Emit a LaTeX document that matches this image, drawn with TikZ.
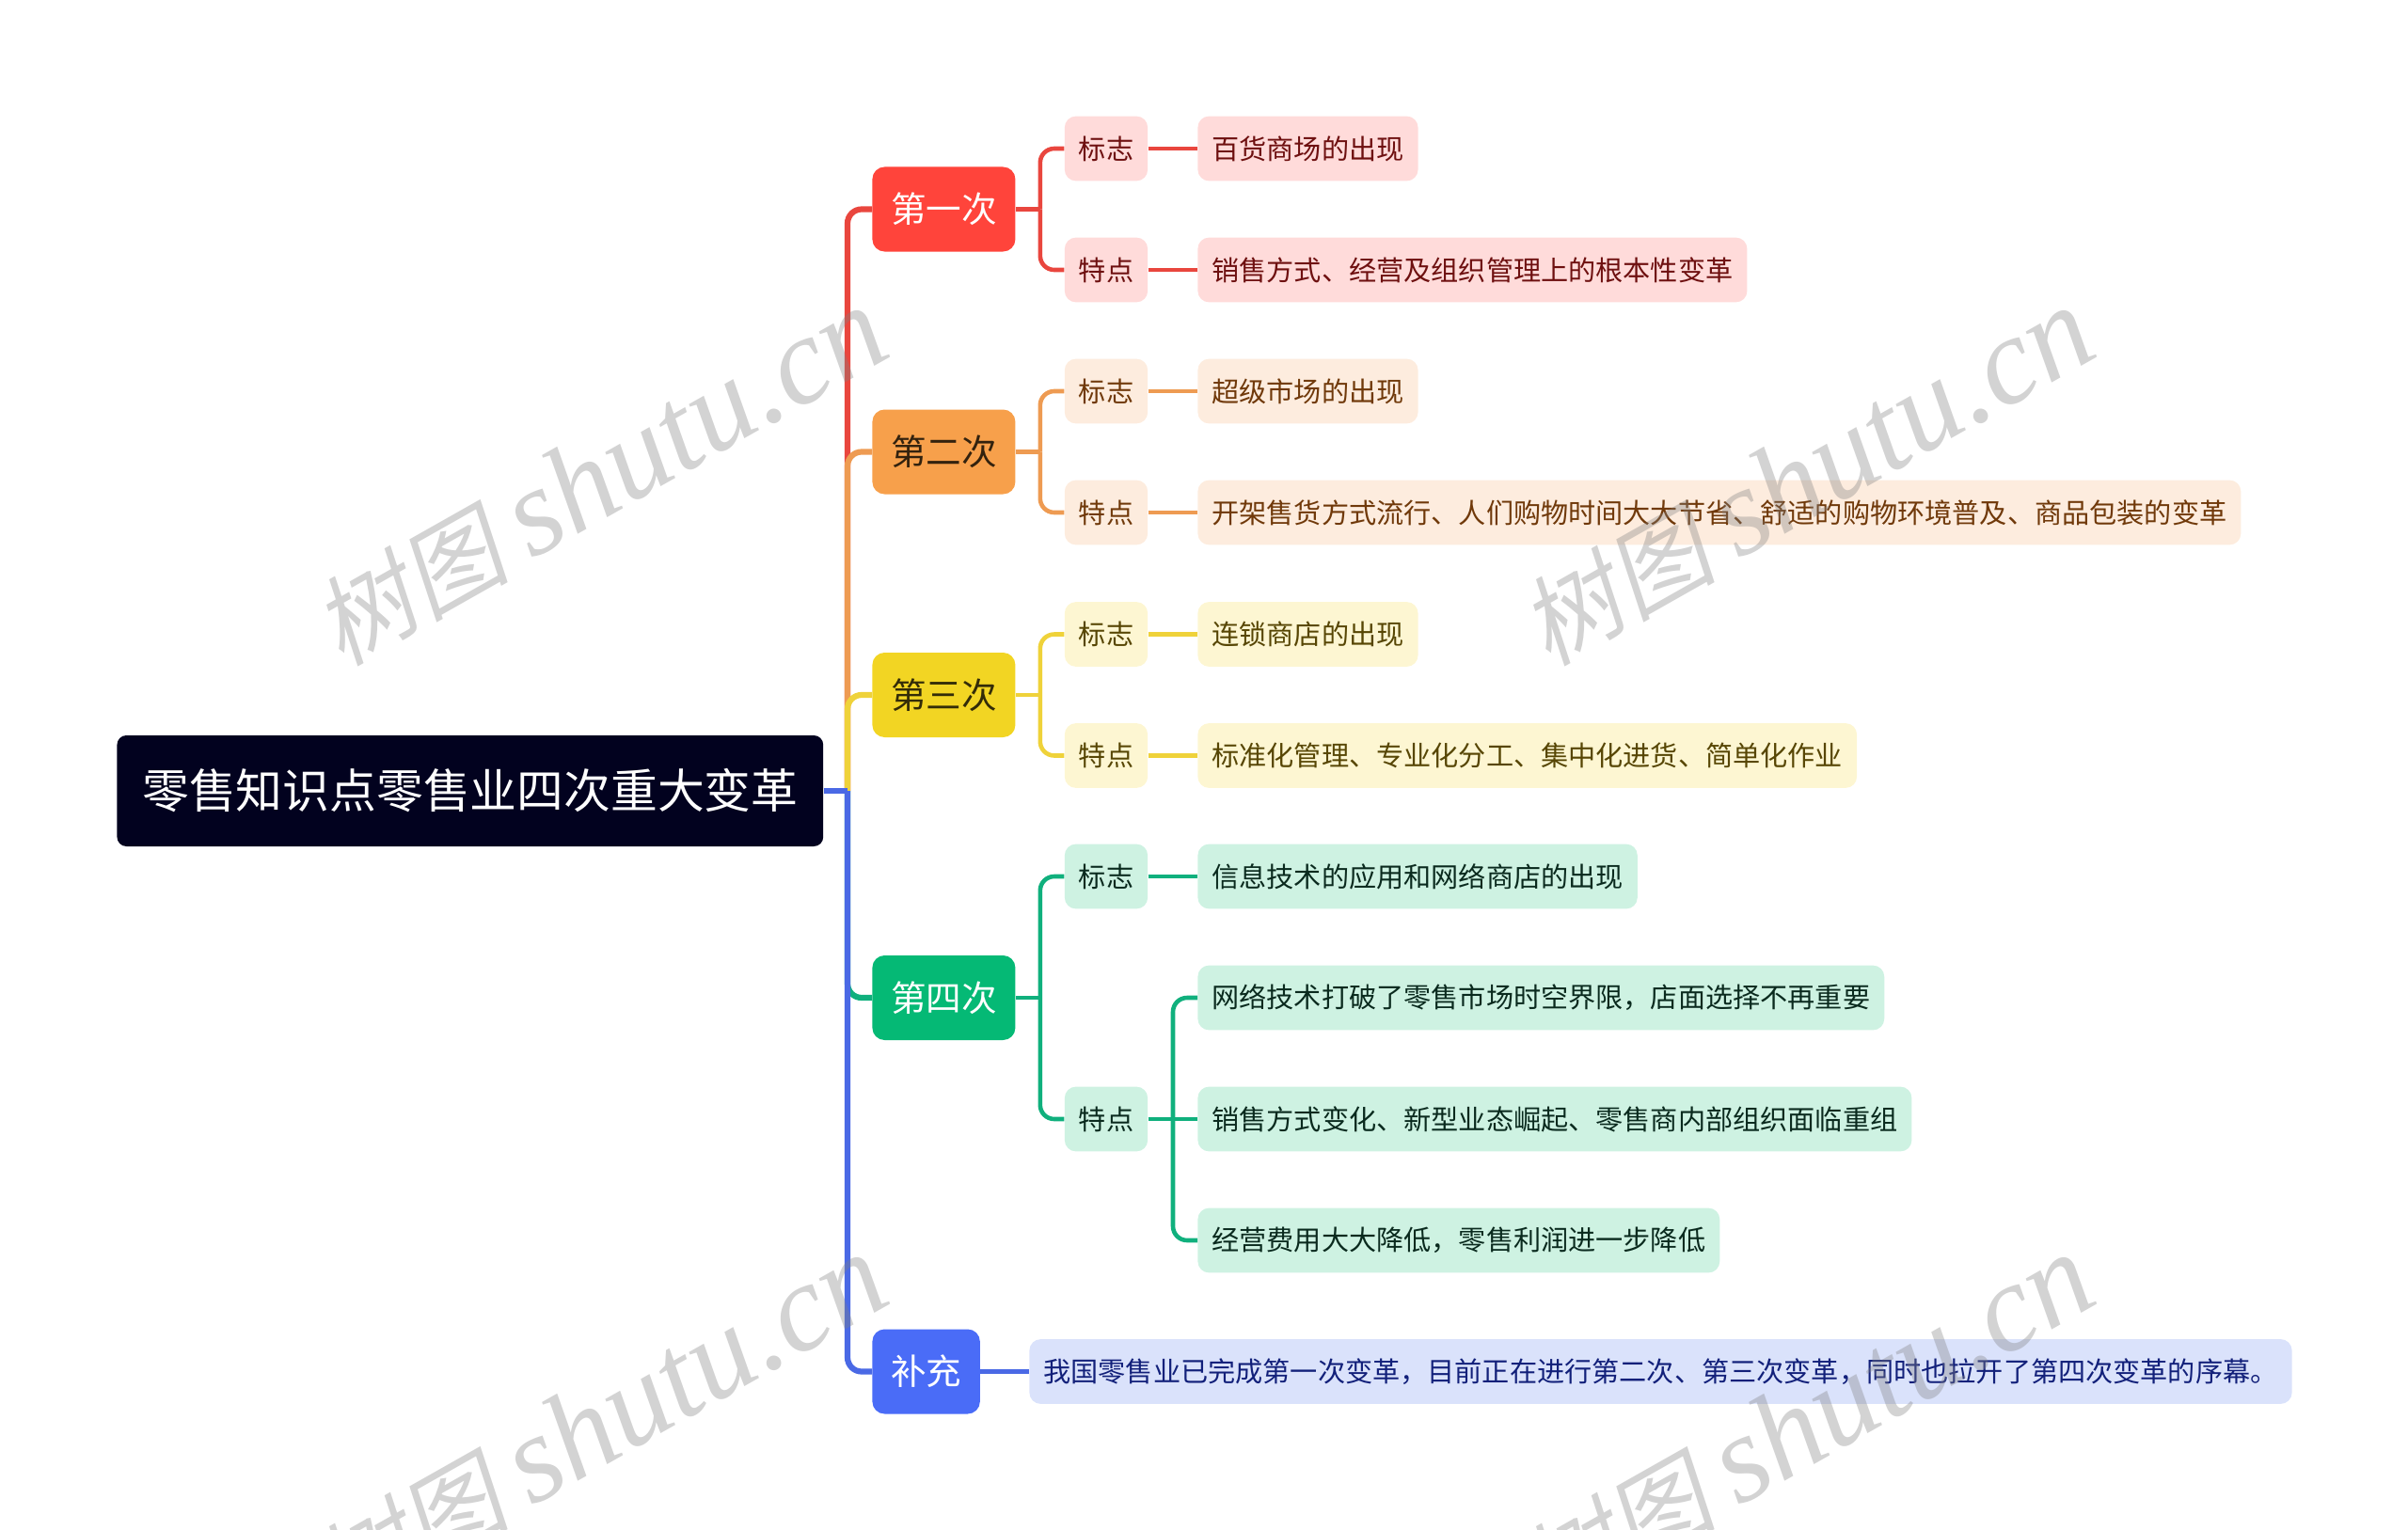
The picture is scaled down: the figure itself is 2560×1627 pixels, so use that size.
\documentclass[tikz,border=0pt]{standalone}
\usepackage{fontspec}
\setmainfont{Noto Sans CJK SC}
\newfontfamily\markcjk[FakeSlant=0.2]{Noto Sans CJK SC}
\newfontfamily\marklatin{Liberation Serif}
\definecolor{rootfill}{HTML}{02021F}
\definecolor{redfill}{HTML}{FF443B}   \definecolor{redhead}{HTML}{FFFFFF}
\definecolor{redline}{HTML}{E9463E}   \definecolor{redsoft}{HTML}{FFDBDA}  \definecolor{redink}{HTML}{6E1010}
\definecolor{orgfill}{HTML}{F7A04B}   \definecolor{orghead}{HTML}{33220E}
\definecolor{orgline}{HTML}{EE9B52}   \definecolor{orgsoft}{HTML}{FDECDE}  \definecolor{orgink}{HTML}{70390A}
\definecolor{yelfill}{HTML}{F2D523}   \definecolor{yelhead}{HTML}{332C08}
\definecolor{yelline}{HTML}{EFD23A}   \definecolor{yelsoft}{HTML}{FDF6D2}  \definecolor{yelink}{HTML}{574604}
\definecolor{grnfill}{HTML}{05B975}   \definecolor{grnhead}{HTML}{FFFFFF}
\definecolor{grnline}{HTML}{10B07D}   \definecolor{grnsoft}{HTML}{CEF2E2}  \definecolor{grnink}{HTML}{0A2A1E}
\definecolor{blufill}{HTML}{4A6CF7}   \definecolor{bluhead}{HTML}{FFFFFF}
\definecolor{bluline}{HTML}{4A69E5}   \definecolor{blusoft}{HTML}{DAE2FB}  \definecolor{bluink}{HTML}{12207A}

\begin{document}
\begin{tikzpicture}[x=0.5pt,y=-0.5pt,
   root/.style={fill=rootfill,text=white,rounded corners=5pt,anchor=west,inner xsep=13.4pt,minimum height=59pt,font=\fontsize{24.9pt}{30pt}\selectfont},
   major/.style={fill=#1fill,text=#1head,rounded corners=6.5pt,anchor=west,inner xsep=9.8pt,minimum height=45pt,font=\fontsize{18.8pt}{23pt}\selectfont},
   tag/.style={fill=#1soft,text=#1ink,rounded corners=6pt,inner xsep=7.5pt,minimum height=34.4pt,font=\fontsize{14.58pt}{18pt}\selectfont},
   leaf/.style={tag=#1,anchor=west},
   link/.style={draw=#1line,line width=2.3pt,rounded corners=7.5pt},
   spine/.style={link=#1,line width=3.1pt},
   wmark/.style={text=gray,opacity=.35,rotate=29.5}
]
  \useasboundingbox (0,0) rectangle (2560,1627);
  \clip (0,0) rectangle (2560,1627);

  \node[root] (R) at (124,841) {零售知识点零售业四次重大变革};

  \node[major=red] (M1) at (927,222.5) {第一次};
  \node[major=org] (M2) at (927,480.5) {第二次};
  \node[major=yel] (M3) at (927,739) {第三次};
  \node[major=grn] (M4) at (927,1061) {第四次};
  \node[major=blu] (M5) at (927,1458.5) {补充};

  % two small tags per branch, then the text they lead to
  \foreach \Nom/\Col/\Ypos/\Txt in {
     T11/red/158/标志, T12/red/287/特点,
     T21/org/416/标志, T22/org/545/特点,
     T31/yel/674.5/标志, T32/yel/803.5/特点,
     T41/grn/932/标志, T42/grn/1190/特点}
    \node[tag=\Col] (\Nom) at (1176,\Ypos) {\Txt};

  \foreach \Nom/\Col/\Ypos/\Txt in {
     L11/red/158/百货商场的出现,
     L12/red/287/销售方式、经营及组织管理上的根本性变革,
     L21/org/416/超级市场的出现,
     L22/org/545/开架售货方式流行、人们购物时间大大节省、舒适的购物环境普及、商品包装的变革,
     L31/yel/674.5/连锁商店的出现,
     L32/yel/803.5/标准化管理、专业化分工、集中化进货、简单化作业,
     L41/grn/932/信息技术的应用和网络商店的出现,
     L42/grn/1061/网络技术打破了零售市场时空界限，店面选择不再重要,
     L43/grn/1190/销售方式变化、新型业态崛起、零售商内部组织面临重组,
     L44/grn/1319/经营费用大大降低，零售利润进一步降低}
    \node[leaf=\Col] (\Nom) at (1273,\Ypos) {\Txt};
  \node[leaf=blu] (L51) at (1094,1458.5) {我国零售业已完成第一次变革，目前正在进行第二次、第三次变革，同时也拉开了第四次变革的序幕。};

  % spine from the root, later colours lie over earlier ones
  \coordinate (hub) at (901,841);
  \foreach \Col/\Nodo in {red/M1,org/M2,yel/M3,grn/M4,blu/M5}
    \draw[spine=\Col] (hub) |- (\Nodo.west);
  \draw[spine=blu] (R.east) -- (hub);

  % forks behind each branch
  \foreach \Col/\Nodo/\Up/\Down in {red/M1/T11/T12,org/M2/T21/T22,yel/M3/T31/T32,grn/M4/T41/T42}{
    \coordinate (\Nodo f) at ([xshift=13pt]\Nodo.east);
    \draw[link=\Col] (\Nodo.east) -- (\Nodo f);
    \draw[link=\Col] (\Nodo f) |- (\Up.west);
    \draw[link=\Col] (\Nodo f) |- (\Down.west);
  }
  \foreach \Col/\Nodo/\Ziel in {red/T11/L11,red/T12/L12,org/T21/L21,org/T22/L22,yel/T31/L31,yel/T32/L32,grn/T41/L41,grn/T42/L43,blu/M5/L51}
    \draw[link=\Col] (\Nodo.east) -- (\Ziel.west);

  \coordinate (T42f) at (1247,1190);
  \draw[link=grn] (T42f) |- (L42.west);
  \draw[link=grn] (T42f) |- (L44.west);

  % site mark, repeated
  \foreach \Nom/\Pos in {W1/{(637,507)},W2/{(1920,507)},W3/{(637,1514)},W4/{(1920,1514)}}
    \node[wmark] (\Nom) at \Pos {\fontsize{52pt}{60pt}\markcjk 树图\hspace{12pt}\fontsize{66pt}{70pt}\marklatin\itshape shutu.cn};
\end{tikzpicture}
\end{document}
